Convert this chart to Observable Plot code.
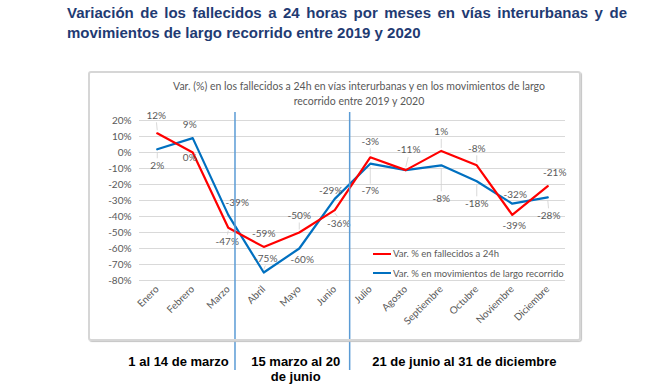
<!DOCTYPE html>
<html><head><meta charset="utf-8">
<script src="https://cdn.jsdelivr.net/npm/d3@7"></script>
<script src="https://cdn.jsdelivr.net/npm/@observablehq/plot@0.6"></script>
<style>
body{margin:0;background:#fff;width:650px;height:390px;overflow:hidden;position:relative;font-family:Lato,sans-serif}
#title{position:absolute;left:67px;top:3px;width:560px;font-weight:bold;font-size:15px;font-family:'Liberation Sans Narrow','Arial Narrow','Liberation Sans',sans-serif;color:#1f3b73;line-height:20px}
#title .l1{text-align:justify;text-align-last:justify;white-space:nowrap}
#frame{position:absolute;left:88px;top:71px;width:489px;height:266px;border:2px solid #d6d6d6;border-radius:3px;box-shadow:1px 1px 1px #c4c4c4;z-index:3;pointer-events:none}
#ctitle{position:absolute;left:150px;top:79px;width:418px;text-align:center;font-size:10.5px;line-height:15px;color:#595959;font-family:Lato,sans-serif;z-index:2}
#legend{position:absolute;left:373px;top:244px;font-size:9.5px;color:#595959;font-family:Lato,sans-serif;z-index:2}
#legend div{height:19.5px;display:flex;align-items:center;white-space:nowrap}
#legend span.sw{display:inline-block;width:18px;height:2px;margin-right:2px}
#chart{position:absolute;left:0;top:58px;z-index:1}
</style></head>
<body>
<div id="title"><div class="l1">Variación de los fallecidos a 24 horas por meses en vías interurbanas y de</div><div>movimientos de largo recorrido entre 2019 y 2020</div></div>
<div id="frame"></div>
<div id="ctitle">Var. (%) en los fallecidos a 24h en vías interurbanas y en los movimientos de largo<br>recorrido entre 2019 y 2020</div>
<div id="legend">
<div><span class="sw" style="background:#ff0000"></span>Var. % en fallecidos a 24h</div>
<div><span class="sw" style="background:#0070c0"></span>Var. % en movimientos de largo recorrido</div>
</div>
<div id="chart"></div>
<script>
const months = ["Enero","Febrero","Marzo","Abril","Mayo","Junio","Julio","Agosto","Septiembre","Octubre","Noviembre","Diciembre"];
const fallecidos = [12, 0, -47, -59, -50, -36, -3, -11, 1, -8, -39, -21];
const movimientos = [2, 9, -39, -75, -60, -29, -7, -11, -8, -18, -32, -28];
const yTicks = [20, 10, 0, -10, -20, -30, -40, -50, -60, -70, -80];
const periodBreaks = [2.19, 5.42];
const periodNames = ["1 al 14 de marzo", "15 marzo al 20\nde junio", "21 de junio al 31 de diciembre"];
const periodCenters = [0.6, 3.9, 8.65];

// label placement (pixel offsets from the point), layout only
const redLabelOffsets = [[-1,-18],[-3,5],[-1,14],[0,-13],[0,-17],[4,14],[0,-16],[3,-20],[0,-19],[0,-17],[2,11],[7,-13]];
const blueLabelOffsets = [[0,16],[-3,-13],[9,-12],[2,-14],[3,11],[-4,-8],[0,27],null,[0,33],[0,22],[3,-9],[1,18]];

const W = 650, H = 332, mT = 62, mB = 110, mL = 139, mR = 85;
const xs = Plot.scale({x: {domain: [-0.5, 11.5], range: [mL, W - mR]}});
const ys = Plot.scale({y: {domain: [-80, 20], range: [H - mB, mT]}});

const labels = [], leaders = [];
function addLabels(values, offsets, series) {
  values.forEach((v, i) => {
    const o = offsets[i];
    if (!o) return;
    const px = xs.apply(i), py = ys.apply(v);
    labels.push({x: xs.invert(px + o[0]), y: ys.invert(py + o[1]), text: v + "%", series});
    if (Math.abs(o[1]) > 13) {
      const s = Math.sign(o[1]);
      leaders.push({x1: i, y1: ys.invert(py + s * 3), x2: xs.invert(px + o[0] * 0.8), y2: ys.invert(py + o[1] - s * 7)});
    }
  });
}
addLabels(fallecidos, redLabelOffsets, "r");
addLabels(movimientos, blueLabelOffsets, "b");

const chart = Plot.plot({
  width: W, height: H,
  marginTop: mT, marginBottom: mB, marginLeft: mL, marginRight: mR,
  style: {background: "transparent", fontFamily: "Lato, sans-serif", fontSize: "10px", color: "#595959", overflow: "visible"},
  x: {domain: [-0.5, 11.5], axis: null},
  y: {domain: [-80, 20], axis: null},
  marks: [
    Plot.gridY(yTicks, {stroke: "#d9d9d9", strokeOpacity: 1}),
    Plot.axisY({ticks: yTicks, tickFormat: d => d + "%", tickSize: 0, tickPadding: 8, label: null, fill: "#595959", fontSize: 10}),
    Plot.axisX({ticks: d3.range(12), tickFormat: i => months[i], tickRotate: -45, tickSize: 0, tickPadding: 7, label: null, fill: "#595959", fontSize: 10}),
    Plot.link(leaders, {x1: "x1", y1: "y1", x2: "x2", y2: "y2", stroke: "#cfcfcf", strokeWidth: 0.8}),
    Plot.line(movimientos, {x: (d, i) => i, y: d => d, stroke: "#0070c0", strokeWidth: 2.2}),
    Plot.line(fallecidos, {x: (d, i) => i, y: d => d, stroke: "#ff0000", strokeWidth: 2.2}),
    Plot.text(labels, {x: "x", y: "y", text: "text", fill: "#595959", fontSize: 10}),
    Plot.ruleX(periodBreaks, {stroke: "#5b9bd5", strokeWidth: 1.5, insetTop: -8, insetBottom: -90}),
    Plot.text(periodNames, {x: (d, i) => periodCenters[i], text: d => d, frameAnchor: "bottom", lineAnchor: "top", dy: 75,
      fontWeight: "bold", fontSize: 13, fill: "#000", lineHeight: 1.15,
      fontFamily: "'Liberation Sans Narrow','Arial Narrow','Liberation Sans',sans-serif"})
  ]
});
document.getElementById("chart").appendChild(chart);
</script>
</body></html>
